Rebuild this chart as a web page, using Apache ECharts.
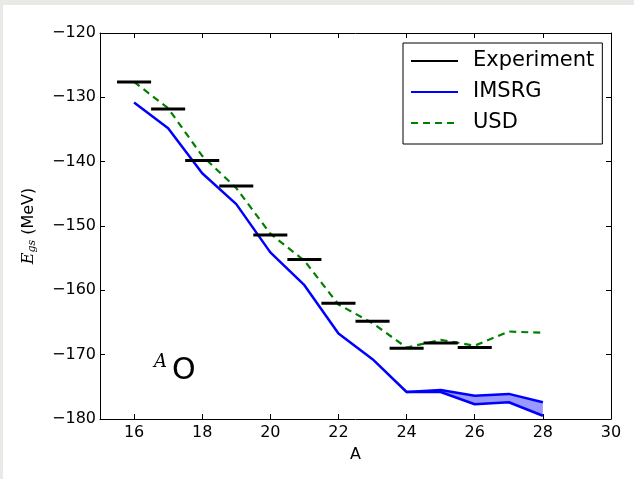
<!DOCTYPE html>
<html>
<head>
<meta charset="utf-8">
<script src="https://cdn.jsdelivr.net/npm/echarts@6/dist/echarts.min.js"></script>
<style>
  html, body { margin: 0; padding: 0; background: #e9e9e5; }
  #main { position: absolute; left: 3px; top: 5px; width: 631px; height: 474px; background: #fff; }
</style>
</head>
<body>
<div id="main"></div>
<script>
// data
var massA = [16, 17, 18, 19, 20, 21, 22, 23, 24, 25, 26, 27, 28];
var expA = [16, 17, 18, 19, 20, 21, 22, 23, 24, 25, 26];
var expE = [-127.6, -131.8, -139.8, -143.8, -151.4, -155.2, -162.0, -164.8, -169.0, -168.2, -168.9];
var imsrgLow = [-130.8, -134.8, -141.8, -146.6, -154.1, -159.2, -166.7, -170.7, -175.8, -175.8, -177.7, -177.4, -179.5];
var bandA = [24, 25, 26, 27, 28];
var imsrgHigh = [-175.8, -175.5, -176.4, -176.1, -177.4];
var usd = [-127.6, -131.7, -139.1, -144.1, -151.2, -155.4, -162.2, -165.1, -168.9, -167.7, -168.6, -166.4, -166.6];
var xTicks = [16, 18, 20, 22, 24, 26, 28, 30];

function pairs(xs, ys) {
    return xs.map(function (x, i) { return [x, ys[i]]; });
}

// experiment: short horizontal bars, split by empty points
var expBars = [];
expA.forEach(function (a, i) {
    expBars.push([a - 0.5, expE[i]]);
    expBars.push([a + 0.5, expE[i]]);
    expBars.push([a + 0.5, '-']);
});

var minus = function (v) { return v < 0 ? '\u2212' + Math.abs(v) : '' + v; };
var font = 'DejaVu Sans';

var myChart = echarts.init(document.getElementById('main'));

var axisCommon = {
    axisLine: { lineStyle: { color: '#000', width: 1 } },
    axisTick: { inside: true, length: 5, lineStyle: { color: '#000' } },
    splitLine: { show: false }
};

// filled band between the two IMSRG curves
function renderBand(params, api) {
    var pts = [];
    bandA.forEach(function (a, i) { pts.push(api.coord([a, imsrgHigh[i]])); });
    for (var i = bandA.length - 1; i >= 0; i--) {
        pts.push(api.coord([bandA[i], imsrgLow[massA.indexOf(bandA[i])]]));
    }
    return { type: 'polygon', shape: { points: pts }, style: { fill: 'rgba(0,0,255,0.4)' } };
}

var option = {
    animation: false,
    backgroundColor: '#fff',
    grid: { left: 97, top: 28, right: 23, bottom: 60 },
    legend: {
        orient: 'vertical',
        left: 400, top: 38,
        padding: [6, 8, 9, 7],
        itemWidth: 47, itemHeight: 14, itemGap: 7,
        borderColor: '#000', borderWidth: 1, borderRadius: 0,
        itemStyle: { opacity: 0 },
        textStyle: { fontFamily: font, fontSize: 21, color: '#000', lineHeight: 24, padding: [0, 0, 0, 10] },
        data: ['Experiment', 'IMSRG', 'USD']
    },
    xAxis: [
        Object.assign({}, axisCommon, {
            type: 'value', min: 15, max: 30,
            name: 'A', nameLocation: 'middle', nameGap: 28,
            nameTextStyle: { fontFamily: font, fontSize: 16, color: '#000' },
            axisTick: { inside: true, length: 5, lineStyle: { color: '#000' }, customValues: xTicks },
            axisLabel: { customValues: xTicks, fontFamily: font, fontSize: 16, color: '#000', margin: 6 }
        }),
        Object.assign({}, axisCommon, {
            type: 'value', min: 15, max: 30, position: 'top',
            axisTick: { inside: true, length: 5, lineStyle: { color: '#000' }, customValues: xTicks },
            axisLabel: { show: false }
        })
    ],
    yAxis: [
        Object.assign({}, axisCommon, {
            type: 'value', min: -180, max: -120, interval: 10,
            name: '{e|E}{s|gs} (MeV)', nameLocation: 'middle', nameRotate: 90, nameGap: 62,
            nameTextStyle: {
                fontFamily: font, fontSize: 16, color: '#000',
                rich: {
                    e: { fontFamily: 'DejaVu Serif', fontStyle: 'italic', fontSize: 16, color: '#000' },
                    s: { fontFamily: 'DejaVu Serif', fontStyle: 'italic', fontSize: 11, color: '#000', verticalAlign: 'bottom', padding: [8, 0, 0, 0] }
                }
            },
            axisLabel: { fontFamily: font, fontSize: 16, color: '#000', margin: 4, formatter: minus }
        }),
        Object.assign({}, axisCommon, {
            type: 'value', min: -180, max: -120, interval: 10, position: 'right',
            axisLabel: { show: false }
        })
    ],
    graphic: [
        { type: 'text', left: 151, top: 348,
          style: { text: 'A', font: 'italic 18px "DejaVu Serif"', fill: '#000' } },
        { type: 'text', left: 169, top: 351,
          style: { text: 'O', font: '30px "DejaVu Sans"', fill: '#000' } }
    ],
    series: [
        {
            name: 'band', type: 'custom', renderItem: renderBand,
            data: [[bandA[0], imsrgHigh[0]]], encode: { x: 0, y: 1 }, silent: true, z: 1
        },
        {
            name: 'IMSRG upper', type: 'line', data: pairs(bandA, imsrgHigh), symbol: 'none',
            color: '#0000ff', lineStyle: { color: '#0000ff', width: 2.5 }, z: 2
        },
        {
            name: 'IMSRG', type: 'line', data: pairs(massA, imsrgLow), symbol: 'none',
            color: '#0000ff', itemStyle: { opacity: 0 }, lineStyle: { color: '#0000ff', width: 2.5 }, z: 2
        },
        {
            name: 'USD', type: 'line', data: pairs(massA, usd), symbol: 'none',
            color: '#008000', itemStyle: { opacity: 0 }, lineStyle: { color: '#008000', width: 2.2, type: [7, 5] }, z: 3
        },
        {
            name: 'Experiment', type: 'line', data: expBars, symbol: 'none', connectNulls: false,
            color: '#000', itemStyle: { opacity: 0 }, lineStyle: { color: '#000', width: 3 }, z: 4
        }
    ]
};

myChart.setOption(option);
</script>
</body>
</html>
